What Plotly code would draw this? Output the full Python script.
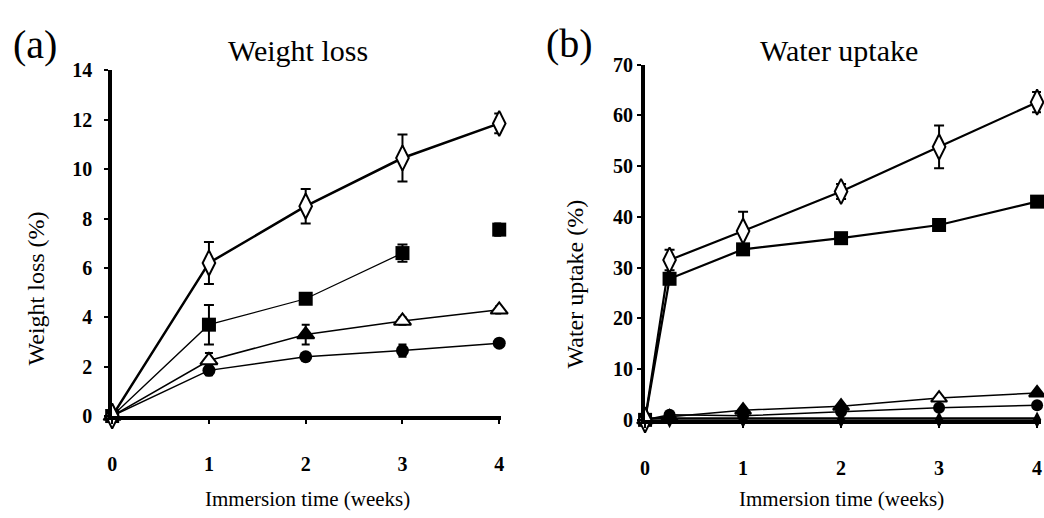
import plotly.graph_objects as go

# ---------------- data ----------------
weeks_a = [0, 1, 2, 3, 4]
wl_diamond = [0, 6.2, 8.5, 10.45, 11.85]
wl_diamond_err = [0, 0.85, 0.7, 0.95, 0.4]
wl_square = [0, 3.7, 4.75, 6.6, 7.55]
wl_square_err = [0, 0.8, 0.15, 0.35, 0.25]
wl_triangle = [0, 2.25, 3.3, 3.85, 4.3]
wl_triangle_err = [0, 0.3, 0.4, 0.15, 0.15]
wl_circle = [0, 1.85, 2.4, 2.65, 2.95]
wl_circle_err = [0, 0.2, 0.1, 0.25, 0.15]

weeks_b = [0, 0.25, 1, 2, 3, 4]
wu_diamond = [0, 31.5, 37.2, 45.0, 53.8, 62.6]
wu_diamond_err = [0, 2.0, 3.8, 1.5, 4.2, 2.0]
wu_square = [0, 27.8, 33.6, 35.8, 38.4, 43.0]
wu_square_err = [0, 0.8, 0.8, 0.6, 1.2, 0.8]
wu_triangle = [0, 0.6, 1.9, 2.7, 4.3, 5.3]
wu_circle = [0, 1.0, 0.8, 1.6, 2.4, 2.9]
wu_zero = [0, 0, 0, 0, 0, 0]

xticks = [0, 1, 2, 3, 4]
yticks_a = [0, 2, 4, 6, 8, 10, 12, 14]
yticks_b = [0, 10, 20, 30, 40, 50, 60, 70]

FONT = "Liberation Serif"
H = 518.0


def py(px):
    return 1 - px / H


fig = go.Figure()


def err(vals, w=2):
    return dict(type="data", array=vals, visible=True, color="black", thickness=2, width=w)


# -------- panel (a) --------
fig.add_trace(go.Scatter(x=weeks_a, y=wl_circle, mode="lines+markers", xaxis="x", yaxis="y",
                         line=dict(color="black", width=1.5), error_y=err(wl_circle_err, 4),
                         marker=dict(symbol="circle", size=13, color="black"), cliponaxis=False))
fig.add_trace(go.Scatter(x=weeks_a, y=wl_triangle, mode="lines+markers", xaxis="x", yaxis="y",
                         line=dict(color="black", width=1.5), error_y=err(wl_triangle_err, 4),
                         marker=dict(symbol="triangle-up", size=15,
                                     color=["black", "white", "black", "white", "white"],
                                     line=dict(color="black", width=2)), cliponaxis=False))
fig.add_trace(go.Scatter(x=weeks_a[:4], y=wl_square[:4], mode="lines", xaxis="x", yaxis="y",
                         line=dict(color="black", width=1.3), cliponaxis=False))
fig.add_trace(go.Scatter(x=weeks_a, y=wl_square, mode="markers", xaxis="x", yaxis="y",
                         error_y=err(wl_square_err, 5),
                         marker=dict(symbol="square", size=14, color="black"), cliponaxis=False))
fig.add_trace(go.Scatter(x=weeks_a, y=wl_diamond, mode="lines+markers", xaxis="x", yaxis="y",
                         line=dict(color="black", width=2.5), error_y=err(wl_diamond_err, 5),
                         marker=dict(symbol="diamond-tall", size=18, color="white",
                                     line=dict(color="black", width=2)), cliponaxis=False))

# -------- panel (b) --------
fig.add_trace(go.Scatter(x=weeks_b, y=wu_zero, mode="lines+markers", xaxis="x2", yaxis="y2",
                         line=dict(color="black", width=5),
                         marker=dict(symbol="diamond-tall", size=12, color="black"), cliponaxis=False))
fig.add_trace(go.Scatter(x=weeks_b, y=wu_circle, mode="lines+markers", xaxis="x2", yaxis="y2",
                         line=dict(color="black", width=1.5),
                         marker=dict(symbol="circle", size=12, color="black"), cliponaxis=False))
fig.add_trace(go.Scatter(x=weeks_b, y=wu_triangle, mode="lines+markers", xaxis="x2", yaxis="y2",
                         line=dict(color="black", width=1.5),
                         marker=dict(symbol="triangle-up", size=14,
                                     color=["black", "black", "black", "black", "white", "black"],
                                     line=dict(color="black", width=2)), cliponaxis=False))
fig.add_trace(go.Scatter(x=weeks_b, y=wu_square, mode="lines+markers", xaxis="x2", yaxis="y2",
                         line=dict(color="black", width=2.2), error_y=err(wu_square_err, 4),
                         marker=dict(symbol="square", size=14, color="black"), cliponaxis=False))
fig.add_trace(go.Scatter(x=weeks_b, y=wu_diamond, mode="lines+markers", xaxis="x2", yaxis="y2",
                         line=dict(color="black", width=2.2), error_y=err(wu_diamond_err, 5),
                         marker=dict(symbol="diamond-tall", size=18, color="white",
                                     line=dict(color="black", width=2)), cliponaxis=False))

axis_common = dict(showgrid=False, zeroline=False, showline=True, linecolor="black",
                   ticks="outside", tickcolor="black", ticklen=4, tickwidth=2,
                   tickfont=dict(family=FONT, size=20, color="black", weight="bold"))

fig.update_layout(
    width=1044, height=518, margin=dict(l=0, r=0, t=0, b=0),
    paper_bgcolor="white", plot_bgcolor="white", showlegend=False,
    xaxis=dict(domain=[108 / 1044, 500 / 1044], range=[0, 4.02], tickvals=xticks,
               linewidth=4, ticklabelstandoff=23, anchor="y", **axis_common),
    yaxis=dict(domain=[py(423), py(62)], range=[0, 14], tickvals=yticks_a,
               linewidth=4, ticklabelstandoff=8, anchor="x", **axis_common),
    xaxis2=dict(domain=[645 / 1044, 1044 / 1044], range=[0, 4.04], tickvals=xticks,
                linewidth=4, ticklabelstandoff=23, anchor="y2", **axis_common),
    yaxis2=dict(domain=[py(427), py(56)], range=[0, 70], tickvals=yticks_b,
                linewidth=4, ticklabelstandoff=0, anchor="x2", **axis_common),
)

ann = []


def text(x, y, s, size, angle=0):
    ann.append(dict(x=x / 1044, y=py(y), xref="paper", yref="paper", text=s, showarrow=False,
                    textangle=angle, xanchor="center", yanchor="middle",
                    font=dict(family=FONT, size=size, color="black")))


text(30, 35, "(a)", 40)
text(295, 41, "Weight loss", 30)
text(31, 290, "Weight loss (%)", 24, -90)
text(305, 510, "Immersion time (weeks)", 21)
text(569, 34, "(b)", 40)
text(840, 41, "Water uptake", 30)
text(574, 285, "Water uptake (%)", 24, -90)
text(843, 510, "Immersion time (weeks)", 21)
fig.update_layout(annotations=ann)

fig.write_html("out.html")
